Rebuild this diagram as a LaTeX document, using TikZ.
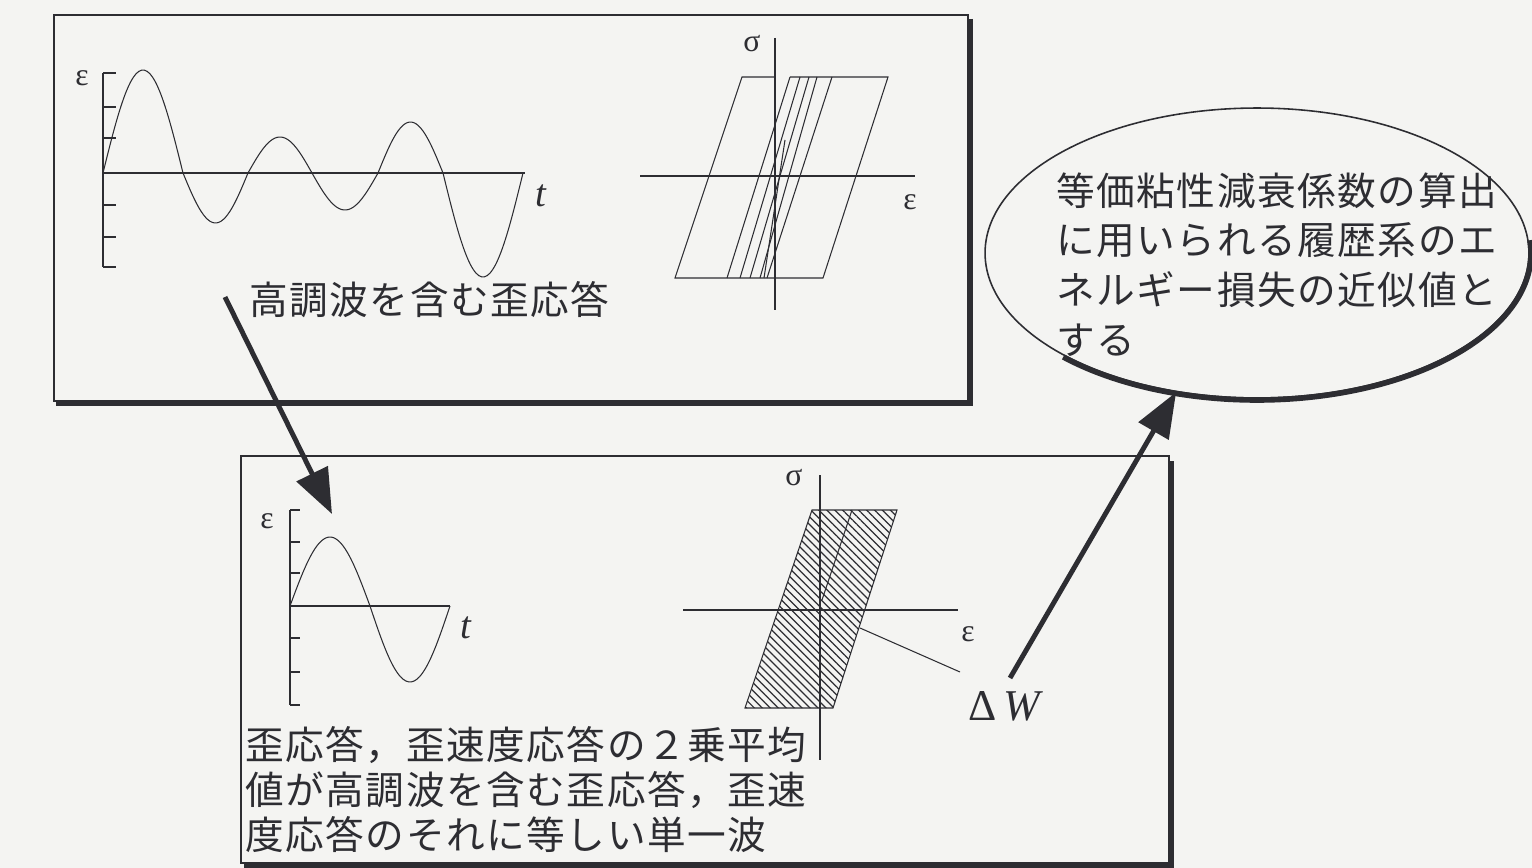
\documentclass[tikz,border=0pt]{standalone}
\usepackage{fontspec}
\setmainfont{Liberation Serif}
\newfontfamily\jp[LetterSpace=4]{Noto Sans CJK JP}
\usetikzlibrary{arrows.meta,patterns.meta,shapes.geometric}
\definecolor{bg}{RGB}{244,244,242}
\definecolor{ink}{RGB}{45,45,50}
\tikzset{
  thin line/.style={draw=ink,line width=0.6pt},
  axisline/.style={draw=ink,line width=0.9pt},
  frameline/.style={draw=ink,line width=1.1pt},
  shadowline/.style={draw=ink,line width=3pt},
  wave/.style={draw=ink,line width=0.6pt},
  bigarrow/.style={draw=ink,line width=2.8pt,-{Triangle[length=0.9cm,width=0.68cm]}},
  sym/.style={text=ink,font=\fontsize{18}{20}\selectfont,inner sep=0pt},
  jtext/.style={text=ink,font=\jp\fontsize{22}{25.5}\selectfont,inner sep=0pt,align=left},
}
\begin{document}
\begin{tikzpicture}[x=0.02cm,y=-0.02cm]
\useasboundingbox (0,0) rectangle (1532,868);
\fill[bg] (0,0) rectangle (1532,868);

% ---------- top box ----------
\node[frameline,rectangle,minimum width=18.28cm,minimum height=7.72cm,anchor=north west,inner sep=0pt] (topbox) at (53,14) {};
\draw[shadowline] (970,19) -- (970,403) -- (56,403);

% top wave
\draw[axisline] (103,173) -- (525,173);
\draw[thin line] (103,73) -- (103,267);
\foreach \y in {73,107,138,205,237,267} \draw[thin line] (103,\y) -- (116,\y);
\foreach \a/\b/\A in {103/183/103,183/248/-50,248/312/36,312/378/-37,378/443/51,443/523/-104}
  \draw[wave] plot[domain=0:180,samples=30,smooth] ({\a+(\b-\a)*\x/180},{173-\A*sin(\x)});
\node[sym] (eps1) at (82,78) {ε};
\node[sym,font=\fontsize{22}{24}\selectfont\itshape] (t1) at (541,196) {t};

% top hysteresis
\draw[axisline] (775,38) -- (775,310);
\draw[axisline] (640,176) -- (915,176);
\node[sym] (sig1) at (752,44) {σ};
\node[sym] (eps2) at (910,202) {ε};
\draw[thin line] (775,77) -- (742,77) -- (675,278) -- (823,278) -- (888,77) -- (790,77);
\foreach \p/\q in {790/727,800/740,809/750,817/760,832/767}
  \draw[thin line] (\p,77) -- (\q,278);
\draw[thin line] (785,140) -- (764,278);

% label in top box
\node[jtext,anchor=west] (harm) at (249,300) {高調波を含む歪応答};
\coordinate (a1s) at (225,297);
\coordinate (a1e) at (332,514);

% ---------- bottom box ----------
\node[frameline,rectangle,minimum width=18.56cm,minimum height=8.14cm,anchor=north west,inner sep=0pt] (botbox) at (240,455) {};
\draw[shadowline] (1171,461) -- (1171,866) -- (244,866);

% bottom wave
\draw[axisline] (290,606) -- (450,606);
\draw[thin line] (290,510) -- (290,705);
\foreach \y in {510,542,573,638,672,705} \draw[thin line] (290,\y) -- (300,\y);
\foreach \a/\b/\A in {290/370/69,370/450/-76}
  \draw[wave] plot[domain=0:180,samples=30,smooth] ({\a+(\b-\a)*\x/180},{606-\A*sin(\x)});
\node[sym] (eps3) at (267,521) {ε};
\node[sym,font=\fontsize{22}{24}\selectfont\itshape] (t2) at (466,628) {t};

% bottom hysteresis (hatched)
\fill[pattern={Lines[angle=-45,distance=3.2pt,line width=0.7pt]},pattern color=ink]
  (812,510) -- (897,510) -- (833,708) -- (745,708) -- cycle;
\draw[thin line] (812,510) -- (897,510) -- (833,708) -- (745,708) -- cycle;
\draw[thin line] (852,510) -- (822,600);
\draw[axisline] (820,475) -- (820,760);
\draw[axisline] (683,610) -- (958,610);
\node[sym] (sig2) at (794,478) {σ};
\node[sym] (eps4) at (968,634) {ε};
\node[text=ink,inner sep=0pt,font=\fontsize{25}{27}\selectfont] (dw) at (1006,706) {Δ\,\textit{W}};
\coordinate (dwp) at (860,628);
\coordinate (dwq) at (960,672);
\draw[thin line] (dwp) -- (dwq);

\node[jtext,anchor=north west] (desc) at (245,726) {歪応答，歪速度応答の２乗平均\\値が高調波を含む歪応答，歪速\\度応答のそれに等しい単一波};

% ---------- ellipse ----------
\node[ellipse,draw=ink,line width=0.9pt,minimum width=10.88cm,minimum height=5.8cm,inner sep=0pt] (goal) at (1257,253) {};
\draw[ink,line width=3.2pt] plot[domain=-5:135,samples=80,smooth] ({1257+274*cos(\x)},{253+147*sin(\x)});
\node[jtext,anchor=north west,font=\jp\fontsize{22}{28.3}\selectfont] (goaltxt) at (1056,172) {等価粘性減衰係数の算出\\に用いられる履歴系のエ\\ネルギー損失の近似値と\\する};

% ---------- arrows ----------
\coordinate (a2s) at (1010,678);
\draw[bigarrow] (a1s) -- (a1e);
\draw[bigarrow] (a2s) -- (goal);
\end{tikzpicture}
\end{document}
